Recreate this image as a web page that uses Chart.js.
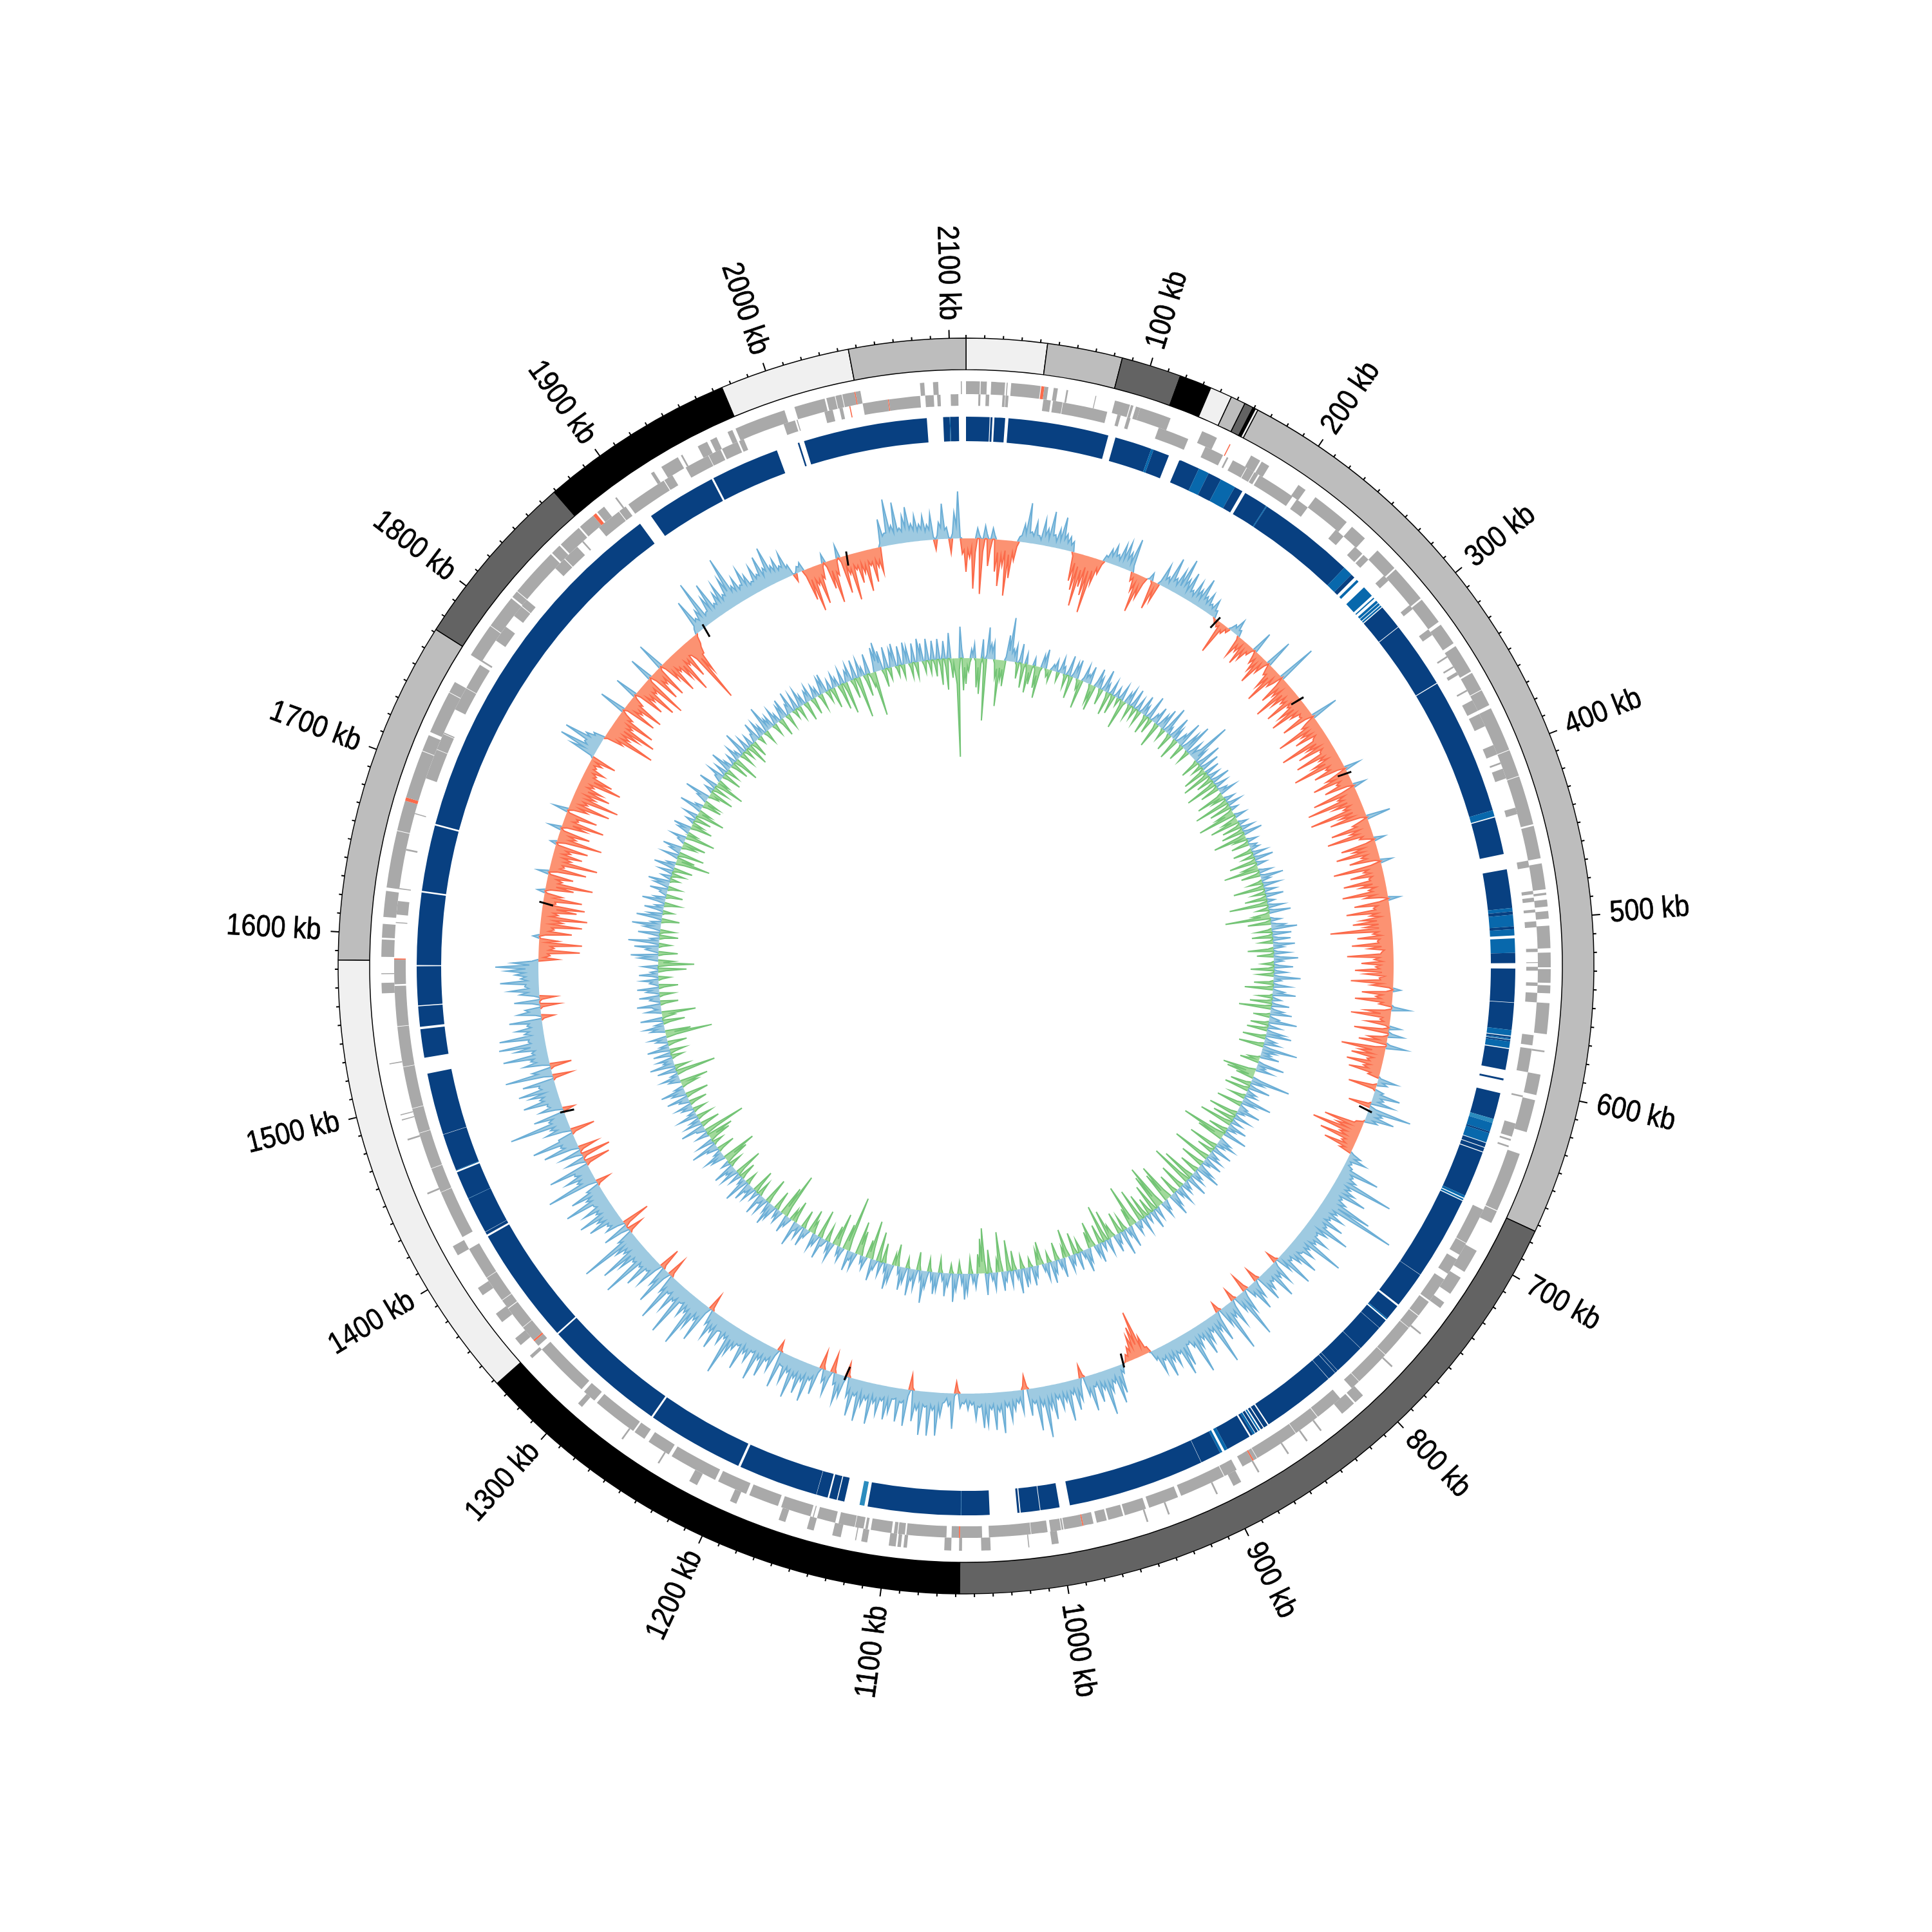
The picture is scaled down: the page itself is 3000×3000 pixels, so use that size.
<!DOCTYPE html>
<html>
<head>
<meta charset="utf-8">
<style>
body { margin: 0; background: #fff; }
#wrap { position: relative; width: 3000px; height: 3000px; }
canvas { position: absolute; left: 0; top: 0; }
</style>
<script src="https://cdn.jsdelivr.net/npm/chart.js@4/dist/chart.umd.js"></script>
</head>
<body>
<div id="wrap">
<canvas id="rings" width="3000" height="3000"></canvas>
<canvas id="tracks" width="3000" height="3000"></canvas>
</div>
<script>
const genomeKb = 2109;
const tickLabels = [100,200,300,400,500,600,700,800,900,1000,1100,1200,1300,1400,1500,1600,1700,1800,1900,2000,2100];

// outer band ring
const bandEnds = [43.8,84.5,117,134.4,146.5,154.5,159.4,160.8,162.3,673.7,1058,1337.6,1585,1771.6,1868.9,1975,2045.7,2109];
const bandStains = [0,1,2,3,0,1,2,3,0,1,2,3,0,1,2,3,0,1];

// genes as [start, end, flag] in kb, flag 1 = tomato
const outerGenes = [[0,8],[8.5,12],[14.5,22.5],[23.4,24],[26,43],[43.4,45.2,1],[45.2,47.5],[50.6,53],[58,59],[75,75.5],[86.5,95.5],[96,97.5],[99,101.6],[101.6,120],[139.6,148.9],[157,157.6,1],[171,177],[178,183],[203,208],[215,238],[242,252],[262,276],[277,299],[300,316],[318,331],[333,350],[351,362],[362.4,372],[374,400],[400.4,416],[416.4,445],[446,465],[468,483],[485,486.3],[489,493],[495.6,500],[504,517],[519.5,528],[529,537],[538.4,543],[548.6,566.5],[576,577],[590,602],[605,624],[637,672],[672.5,680],[698,712],[716,727],[733,737],[755,756],[780,781],[804,810],[811,820],[835,836],[845,846],[858,859],[878,879],[890,895],[905,906],[935,936],[948,949],[1001,1005],[1018,1018.6],[1040.3,1045.7],[1056.8,1058.5],[1063,1067],[1088.5,1090.5],[1092,1094],[1095,1099],[1111.5,1115],[1118,1118.6],[1127,1132],[1143,1147],[1160,1164],[1190,1194],[1215,1220],[1240,1241],[1265,1266],[1295,1298],[1335,1337],[1345,1350],[1362,1368],[1381,1386],[1408,1414],[1447,1448],[1480,1481],[1492,1492.6],[1495,1495.6],[1525,1525.6],[1566,1572],[1577,1577.6],[1587,1597],[1598,1606],[1610,1625],[1627,1660],[1660.4,1678],[1678,1680,1],[1680,1708],[1708.4,1718],[1720,1745],[1745.4,1752],[1770,1790],[1790.4,1810],[1811,1815],[1815.4,1844],[1845,1851],[1852,1866],[1867,1877],[1877,1879,1],[1880,1885],[1893,1894],[1918,1920],[1925,1936],[1938,1939],[1949,1955],[1957,1961],[1968,1971],[1973,2003],[2009,2027],[2028,2033],[2033.4,2037],[2037.4,2044.5],[2044.5,2045.1,1],[2045.1,2048],[2082.5,2085],[2090,2093],[2106,2106.6]];
const innerGenes = [[7.3,8.5],[11.6,13.7],[21.5,23],[23.3,25],[45.6,50],[51.3,57],[57.3,83.8],[90,92],[96,98],[115.4,134],[145,156.5],[159,160],[163,172],[172.4,177],[177.5,180],[181,204],[207,215],[236,242],[251,257],[258,262],[275,279],[298,301],[316,320],[335,336],[342,343],[346,348],[358,359],[365,372],[374,382],[394,400],[405,406],[409,415],[433,437],[465,469],[483,485],[487,489.5],[494,495.7],[501,504.5],[517,519],[525,525.5],[527.7,530],[537,539],[543,548.6],[568,574],[576,590],[604,605],[621,629],[630.5,631.5],[634.5,635.5],[675,697],[697.3,705],[708,718],[722,737],[738,748],[748.4,757],[757.3,778],[778.3,800],[800.3,806],[815,832],[832.4,848],[848.3,875],[875.3,877.5],[877.5,878.3,1],[878.3,885],[889,897],[897.4,925],[927,945],[947,960],[961,970],[971,977],[979,985],[985,985.7,1],[985.7,996.5],[997,998],[998.4,1004.6],[1006.4,1016],[1016.3,1041],[1045,1058],[1058,1058.7,1],[1058.7,1063],[1066,1089.6],[1090.5,1094.5],[1095,1097],[1098.4,1110.7],[1112.5,1114],[1115,1120],[1120.3,1130],[1132,1143],[1145,1145.6],[1147,1165],[1167,1185],[1187,1205],[1207,1236],[1238,1252],[1255,1262],[1263,1290],[1292,1300],[1302,1335],[1338,1341.5],[1341.5,1342.5,1],[1342.5,1352],[1352.3,1366],[1366.5,1372],[1372.3,1388],[1388.3,1408],[1416,1445],[1445.3,1460],[1460.3,1482],[1482.3,1497],[1497.3,1522],[1522.3,1546],[1546.3,1570],[1571,1585.5],[1585.5,1586.2,1],[1607,1607.6],[1612,1620],[1627,1627.6],[1650,1651],[1672,1672.6],[1694,1712],[1712.3,1722],[1722.3,1723],[1738,1752],[1752.3,1768],[1770,1771],[1785,1795],[1803,1810],[1810.4,1815],[1840,1847.5],[1848,1858],[1862,1863],[1875,1890],[1890.4,1895],[1897,1922],[1922.5,1928],[1937,1952],[1952.3,1960],[1961,1971],[1972,1975],[2000,2007],[2008,2008.6],[2025,2030],[2034,2036],[2040,2040.6,1],[2048,2063],[2063,2063.5,1],[2063.5,2082],[2085,2090],[2092,2094],[2100,2104.5]];

// coverage ring: end of each run in kb, and its level (0 = none)
const coverageEnds = [14.5,15,16.2,17.4,24,26,88,92.5,115.5,117,127,134,147,153.6,162,171.7,177,179,194,194.6,255,261,263.6,265.6,267.2,272,279,280.5,281.3,283,284.6,285,286.5,287,288,288.6,303.8,304.2,345.5,346,430.7,434.6,435.3,458.3,467.8,491.7,493.8,495.8,503,504.7,508.5,510.3,519.2,525.5,528.8,549.5,549.8,566.5,570,570.5,571.5,572.3,572.6,573.6,577.6,578.2,591.2,596.5,597.7,605.7,622,624.5,630,631,637,637.4,640,640.5,643,643.5,672,673.5,674.1,675.1,675.7,727.5,727.7,750.2,751.4,761,761.8,762.6,768.5,768.7,785.5,785.7,805,805.2,807,807.2,812.4,812.6,858.6,859.4,862,862.6,864.2,865,866,866.6,868.2,868.6,870,871.5,872.5,888,890,891.5,893,905.8,906,990.6,997,1008.8,1009.2,1021,1021.7,1023,1040,1057.5,1057.7,1115,1117,1120,1129.5,1133.7,1134.3,1139,1140,1147,1147.2,1196.5,1198,1258,1259.2,1335.2,1336.2,1409,1410.2,1412,1412.2,1435,1435.2,1452.5,1453.5,1453.9,1477,1477.2,1515.5,1525.4,1543,1544.5,1557,1557.6,1581.6,1582.3,1626.8,1627.8,1668.6,1669.6,1895.8,1904,1947.4,1948.6,1991,2004.5,2005.5,2008.5,2085,2095,2099,2099.4,2104.6,2109];
const coverageLevels = [1,0,1,0,1,0,1,0,1,2,1,0,1,2,1,2,1,0,1,2,1,2,1,0,2,0,2,0,2,0,2,0,2,0,2,0,1,0,1,0,1,2,0,1,0,1,2,1,2,1,2,0,2,1,0,1,0,1,2,0,1,2,0,1,2,0,1,0,1,0,1,3,2,1,2,0,1,0,1,0,1,2,0,2,0,1,0,1,0,1,2,0,1,0,1,0,1,0,1,0,1,0,1,0,1,0,1,0,2,0,1,0,2,1,0,1,2,0,2,1,0,1,0,1,0,1,0,1,0,1,2,1,0,3,0,1,0,1,0,1,0,1,0,1,0,1,0,1,0,1,0,1,2,1,0,2,1,0,1,0,1,0,1,0,1,0,1,0,1,0,1,0,1,0,1,0,1,0,1,0,1,2,1,0,1,0];

// skew track, readings every 3 kb
const skewValues = [
-52,-30,-78,16,-86,20,-42,17,-50,-72,-40,-86,-58,-30,8,28,62,18,34,14,40,27,55,20,30,50,25,22,16,-45,-58,-82,-50,
-62,-88,-40,-22,10,22,30,18,36,42,28,52,-14,-28,-60,-35,0,12,-45,-30,34,18,52,22,38,60,30,44,18,36,26,48,22,
30,16,26,12,-6,-10,-52,-14,-8,12,24,10,-34,-22,-40,-28,-14,34,-20,-30,-48,-24,44,-18,-38,-60,-26,62,-46,-30,-66,-40,-28,
-58,-24,-44,-61,-30,-18,-52,43,-26,-71,-34,-48,-20,-79,-38,-56,-22,-66,-30,-44,-79,-28,-50,24,-36,-60,-24,-46,19,-70,-32,-84,-44,
-30,-86,-40,-58,38,-26,-62,-34,-72,-22,17,-55,-38,-66,-28,-48,18,-76,-30,-52,-24,-65,-40,-28,-70,-36,18,-54,-25,-68,-32,-46,-60,
-42,-96,-30,-55,-24,-64,-38,-18,-72,-30,-50,-28,-60,-44,-22,-66,-34,12,-48,-26,-58,-20,28,-40,-62,-16,-36,18,-54,24,-30,-44,32,
-69,-40,-51,-25,-56,-28,-50,-18,30,16,-44,14,42,18,35,-35,68,24,45,20,-12,-62,-40,-77,-30,-60,-22,-48,-20,19,30,10,14,
61,22,30,94,28,38,60,24,34,80,123,30,44,26,52,28,70,36,24,46,30,81,28,40,22,55,30,18,59,26,-18,38,24,
54,20,30,44,-22,28,46,18,-28,36,75,26,-20,42,24,77,30,-16,48,28,79,22,36,52,24,34,72,26,18,50,62,24,40,
30,52,22,40,16,-10,-30,-73,-50,-38,-22,-12,0,14,44,58,24,36,70,28,46,20,56,30,-20,34,48,22,62,30,40,24,54,
36,80,30,67,24,42,-22,35,20,30,45,24,64,30,58,26,50,54,22,40,18,25,16,22,-18,55,20,14,36,67,28,68,24,
68,30,48,-24,57,22,52,18,40,52,24,46,30,64,28,38,64,26,59,30,-22,34,45,18,-30,37,20,-28,44,24,60,30,52,
30,64,26,44,20,58,-16,36,24,52,28,64,22,40,30,60,24,34,46,82,26,38,20,54,30,44,24,-26,62,30,48,83,30,
40,22,82,28,50,24,76,30,-30,60,32,-34,44,22,56,26,86,28,48,75,30,40,95,26,-24,42,-44,30,24,52,34,61,28,
46,24,69,30,52,22,-22,81,28,44,26,65,-40,30,-46,34,-30,56,26,69,24,-38,40,30,93,28,50,-18,36,22,58,30,44,
60,26,50,-30,74,30,-34,40,28,70,24,48,73,26,70,30,42,24,51,-20,36,24,-30,40,-26,30,46,22,60,28,36,50,67,
40,-30,-18,-64,-24,-67,-30,10,-50,-22,-65,-34,-72,-26,-54,-66,-20,-60,-28,12,-44,-73,-24,-40,18,-58,-22,-73,-30,-46,-26,-52,10,
-71,-28,-48,20,-38,-65,-22,-50,23,-30,-64,-26,-74,-34,-55,-40,-24,-66,-49,-20,-30,-14,-20,-40,40,62,24,61,28,18,-30,-80,-36,
-48,-73,-30,-63,-22,42,-54,-28,-59,-20,36,-48,-30,-62,-24,-70,38,-50,-26,-53,44,-34,-60,-28,-46,-73,-30,-55,-20,-108,-60,-30,-15,
8,55,20,30,75,18,40,60,22,36,48,26,50,81,30,40,24,48,34,20,42,26,52,30,61,28,36,22,40,18,-12,10,14,
-50,-70,-30,-62,-24,14,-44,-68,-26,20,-58,-30,-72,-26,-48,-34,-64,-25,-52,-30,-40,43,20,72,30,65,24,42,55,28,40,26,38,
24,40,-16,26,55,18,-22,40,73,-24
];

// skew track, the readings 1.5 kb after each of the above
const skewTroughs = [
-18,-14,-22,6,-20,8,-16,7,-20,-24,-16,-22,-18,-8,10,14,16,12,14,8,16,12,18,10,14,16,12,10,-6,-16,-20,-24,-18,
-22,-20,-14,-6,8,12,14,10,14,16,12,10,-8,-14,-18,-10,2,-4,-12,6,12,10,16,12,14,18,12,14,10,14,12,16,12,
12,10,10,-2,-4,-6,-10,-4,4,8,8,-6,-12,-8,-12,-10,-4,-8,-10,-14,-10,-8,-10,-14,-16,-12,-16,-14,-18,-14,-18,-16,-20,
-16,-20,-18,-18,-14,-16,-12,-16,-18,-20,-18,-14,-22,-20,-18,-16,-22,-20,-16,-24,-20,-22,-12,-18,-22,-16,-20,-10,-22,-20,-24,-20,-18,
-22,-18,-20,-10,-12,-20,-18,-22,-16,-10,-14,-20,-22,-18,-20,-8,-16,-22,-20,-18,-22,-20,-16,-22,-20,-10,-14,-18,-22,-20,-16,-22,-20,
-20,-22,-18,-20,-22,-18,-14,-20,-22,-18,-20,-22,-18,-14,-20,-18,-6,-10,-16,-18,-14,4,-10,-16,-12,-10,-6,-10,6,-8,-14,6,-16,
-20,-18,-16,-20,-18,-20,-14,4,8,-6,-4,10,12,10,-4,10,16,14,12,-2,-14,-20,-22,-20,-18,-16,-14,-12,6,10,6,6,12,
16,18,20,18,20,22,18,20,24,26,22,20,22,18,20,24,18,20,22,24,20,18,20,22,16,18,12,14,10,-4,8,14,16,
14,16,18,-6,8,14,12,-8,10,16,14,-4,10,14,16,14,-4,12,14,16,16,14,18,16,14,18,20,14,16,18,20,18,16,
18,16,18,12,2,-10,-14,-20,-18,-14,-8,-4,2,8,16,14,18,20,18,16,14,18,20,-4,10,18,14,16,18,16,18,16,18,
20,22,18,20,18,-4,-6,12,14,16,18,16,20,22,18,20,22,18,20,14,12,10,14,-4,4,14,8,16,20,22,20,22,20,
20,22,-4,10,18,20,16,18,20,18,20,22,18,20,22,18,20,22,18,-4,10,18,14,-6,10,12,-6,8,16,20,18,22,20,
22,20,18,20,18,-2,10,16,20,18,20,18,20,22,18,20,22,24,22,20,18,20,22,18,20,16,-4,10,22,20,24,22,20,
18,22,20,24,18,22,20,-6,12,20,-6,12,18,20,22,20,24,22,24,20,22,24,20,-4,12,-8,10,18,20,22,24,20,22,
20,24,22,20,18,-4,14,22,20,18,24,-6,10,-6,10,-6,12,20,22,24,-6,12,20,22,24,20,-2,12,18,20,24,22,20,
22,24,-4,14,22,-6,12,20,22,20,18,24,22,24,20,22,18,20,-4,10,18,-4,12,-4,10,18,16,20,18,20,22,20,14,
10,-8,-14,-16,-18,-12,-2,-10,-14,-18,-16,-20,-14,-18,-22,-14,-18,-16,-4,-8,-16,-18,-14,-4,-12,-16,-18,-20,-16,-14,-18,-4,-14,
-18,-16,-6,-8,-16,-14,-18,-4,-8,-16,-14,-18,-20,-16,-18,-14,-16,-20,-16,-12,-10,-8,-8,4,20,18,22,20,14,-4,-20,-24,-22,
-20,-22,-18,-16,-8,-6,-16,-20,-16,-6,-8,-16,-20,-18,-16,-6,-10,-18,-16,-6,-8,-20,-18,-22,-24,-20,-22,-18,-30,-34,-30,-20,-4,
12,16,14,18,14,18,20,16,18,20,18,22,26,22,20,18,22,20,16,18,20,22,18,24,20,18,16,18,14,2,4,8,-10,
-18,-20,-22,-18,-6,-8,-16,-20,-4,-8,-16,-22,-18,-20,-18,-22,-18,-20,-18,-20,6,16,20,22,18,20,18,24,20,18,16,18,14,
16,4,6,18,14,2,8,20,2,-18
];

// content track, readings every 3 kb
const contentValues = [
-40,-20,14,22,-45,-55,30,-96,49,24,26,-28,-72,-30,-40,40,68,20,26,-25,30,-38,16,-44,-30,12,-34,-49,20,30,-12,-18,10,
18,-14,24,12,-20,32,-35,24,30,-16,-45,26,14,28,-28,-40,30,18,-25,34,14,-36,22,-30,16,-12,24,-46,18,26,-22,30,-18,
20,-22,30,16,-30,38,-24,14,28,-40,22,34,-18,44,12,-28,36,20,-34,18,42,-26,30,48,-20,24,14,67,22,-30,40,-16,30,
-38,24,-45,18,-26,30,-50,20,-30,14,26,-44,-20,16,-55,22,-34,12,-28,-60,18,-24,-46,14,-30,20,-35,30,-52,-20,16,-28,12,
14,-30,22,-18,30,-42,16,-24,-55,20,-30,36,14,-22,26,-48,18,-20,28,-34,12,-60,24,-18,34,-26,-70,16,-36,22,40,-24,30,
-32,28,-20,34,16,-40,24,-26,38,14,-18,30,-36,20,-24,42,12,-30,26,-44,18,36,-22,14,-34,28,-50,20,34,-26,16,44,-28,
20,-32,28,40,-36,18,24,-39,55,22,16,30,-18,-30,42,14,26,-52,-44,-28,61,20,-32,34,-38,16,18,-24,46,22,-40,14,36,
12,-45,26,-34,18,-52,30,14,-30,38,-70,-42,20,28,14,-46,32,-26,16,24,-60,30,12,-38,26,40,-30,16,22,-52,34,-66,14,
18,-40,28,14,-32,22,36,-60,-48,16,24,-70,-56,20,-44,30,-26,14,-38,26,-52,12,20,-66,-30,34,14,-24,40,-34,16,28,-20,
-46,24,-58,14,-30,30,18,-40,-26,22,36,12,-20,28,-34,16,24,-44,-18,30,14,-28,20,34,-16,26,12,-36,-24,18,30,-14,22,
30,-20,38,14,-30,24,-48,16,30,-62,-20,26,12,-36,34,-70,-54,-30,22,14,-24,30,40,16,-18,26,44,-14,20,36,12,-22,28,
34,14,-20,26,50,16,-28,30,18,42,-16,24,36,12,-34,-18,28,40,14,-30,22,-46,16,34,-60,-28,20,12,-38,-52,26,14,32,
-86,-40,22,14,-52,-30,28,16,-24,12,34,-44,18,26,-20,-36,14,30,-28,22,12,40,-34,-18,16,28,-71,-46,20,14,-30,24,36,
18,-40,26,12,34,-22,16,-36,24,14,30,-18,40,12,-26,20,-44,28,16,34,-20,14,-38,-54,22,30,12,-28,18,42,-16,26,-34,
-41,20,-66,14,38,-30,26,16,-24,30,12,-20,18,25,-28,16,34,-36,22,38,14,-26,-44,18,28,12,-62,30,-22,39,16,24,-18,
28,-24,35,14,-30,18,26,-73,-40,22,30,14,-34,35,-20,-53,24,12,37,-28,16,32,-22,20,34,-30,14,26,-18,30,12,-44,24,
-56,-24,30,43,-30,20,38,-18,48,14,-29,34,-22,26,45,16,-28,40,22,-16,30,14,-24,36,18,-26,12,28,-20,24,34,-14,16,
-20,22,-30,33,14,-54,-28,26,-40,18,30,-22,-36,12,24,-46,-16,20,28,-34,-18,14,-26,22,-44,-20,36,12,-30,-24,18,40,-16,
-38,14,-24,30,-46,-18,12,26,-30,20,-20,34,14,-28,16,-40,24,12,-22,38,-16,22,-34,18,-26,14,30,-12,26,16,-20,42,18,
20,-18,26,14,-28,22,30,-22,16,34,-14,26,-20,28,16,-30,18,24,-26,20,14,-24,26,30,-18,16,-32,22,14,-40,24,-50,18,
26,-30,30,-64,28,14,-34,32,-22,-69,38,45,30,-28,34,-18,28,36,-16,30,-20,34,26,-22,30,-24,36,28,-18,34,-20,30,-26,
32,-40,28,-48,40,-30,-24,-153,49,-50
];

// content track, the readings 1.5 kb after each of the above
const contentTroughs = [
-12,-6,6,-4,-14,-8,-10,6,14,12,-6,-14,-12,-14,6,16,14,10,-4,6,-8,-6,-10,-12,-4,-6,-14,-6,10,-4,-6,4,6,
4,6,8,-4,8,-6,6,12,-4,-8,6,8,10,-6,-10,8,8,-6,8,6,-8,4,-6,4,4,8,-8,-6,10,-4,8,-4,6,
-4,6,8,-6,8,-4,4,10,-8,6,12,-4,10,6,-6,10,6,-8,6,12,-4,8,14,-4,8,6,18,8,-6,10,-2,8,-8,
-6,-8,6,-6,8,-10,6,-6,4,8,-8,-6,6,-10,6,-6,4,-6,-14,6,-6,-10,6,-6,6,-8,8,-10,-8,6,-6,4,6,
-6,6,-4,8,-8,6,-6,-12,8,-6,8,6,-6,8,-10,6,-4,8,-8,4,-12,8,-4,8,-6,-14,6,-8,8,12,-6,8,-6,
8,-4,8,6,-8,6,-6,10,6,-4,8,-8,6,-6,10,6,-6,8,-10,6,10,-4,6,-8,8,-10,6,10,-6,6,12,-6,6,
-6,8,10,-8,6,8,-10,12,8,6,8,-4,-8,10,6,8,-12,-14,-8,14,8,-8,10,-8,6,6,-6,12,8,-8,6,10,6,
-10,8,-8,6,-12,8,6,-8,10,-16,-14,8,10,6,-10,8,-6,6,8,-14,10,6,-10,8,12,-8,6,8,-12,10,-16,6,6,
-10,8,6,-8,8,12,-14,-16,6,10,-16,-18,8,-12,10,-8,6,-10,8,-14,6,8,-16,-10,10,6,-6,12,-10,6,10,-6,-12,
8,-14,6,-8,10,6,-10,-8,8,12,6,-6,10,-10,6,8,-12,-6,10,6,-8,8,12,-4,10,6,-10,-8,6,10,-4,8,10,
-6,12,6,-8,8,-14,6,10,-18,-8,10,6,-10,12,-20,-18,-10,8,6,-8,10,14,6,-6,10,14,-4,8,12,6,-6,10,12,
6,-6,10,16,8,-8,10,8,14,-4,10,12,6,-10,-6,10,14,6,-10,8,-14,6,12,-18,-10,8,6,-12,-16,10,6,12,-20,
-14,8,6,-14,-10,10,6,-8,6,12,-12,8,10,-6,-12,6,10,-8,8,6,14,-10,-6,8,10,-18,-14,8,6,-10,10,12,8,
-12,10,6,12,-8,6,-12,10,6,12,-6,14,6,-8,8,-12,10,8,12,-6,6,-12,-16,10,12,6,-8,8,14,-4,10,-10,-12,
8,-18,6,14,-10,10,6,-8,12,6,-6,8,10,-8,8,12,-10,10,14,6,-8,-14,8,10,6,-16,10,-6,14,8,10,-6,10,
-8,12,6,-10,8,10,-18,-14,8,12,6,-10,12,-6,-14,10,6,14,-8,8,12,-6,8,12,-8,6,10,-6,10,6,-12,10,-16,
-8,12,14,-8,10,14,-6,16,6,-8,12,-6,10,14,8,-8,14,8,-4,10,6,-8,12,8,-6,6,10,-6,10,12,-4,8,-6,
8,-8,12,6,-14,-8,10,-10,8,12,-6,-10,6,10,-12,-4,8,10,-10,-6,6,-8,8,-12,-6,12,6,-8,-6,8,14,-4,-10,
6,-6,10,-12,-6,6,10,-8,8,-6,12,6,-8,6,-12,8,6,-6,12,-4,8,-10,8,-8,6,12,-4,10,6,-6,14,8,8,
-6,10,6,-8,8,10,-6,6,12,-4,10,-6,10,6,-8,8,10,-8,8,6,-6,10,12,-6,6,-10,8,6,-12,8,-14,8,10,
-8,12,-18,10,6,-10,12,-6,-18,14,16,12,-8,12,-6,10,14,-4,12,-6,12,10,-6,12,-8,14,10,-6,12,-6,12,-8,12,
-10,10,-14,14,-8,-8,-40,-18,14,-14
];

// short black marks on the skew track, position in kb
const markKb = [210,300,369,642,927,1149,1464,1630,1887,2013];

const windowKb = 1.5;
const skewBase = 664;
const contentBase = 478;
const stainColors = ['#f0f0f0', '#bdbdbd', '#636363', '#000000'];
const levelColors = ['rgba(0,0,0,0)', '#084081', '#0868ac', '#2b8cbe'];
const geneColor = '#a9a9a9';
const geneFlagColor = '#fb6a4a';

function runs(ends) {
    return ends.map((e, i) => e - (i ? ends[i - 1] : 0));
}

function geneRing(genes, weight) {
    const data = [];
    const colors = [];
    let cursor = 0;
    genes.forEach(g => {
        if (g[0] > cursor) {
            data.push(g[0] - cursor);
            colors.push('rgba(0,0,0,0)');
        }
        data.push(g[1] - g[0]);
        colors.push(g[2] ? geneFlagColor : geneColor);
        cursor = g[1];
    });
    data.push(genomeKb - cursor);
    colors.push('rgba(0,0,0,0)');
    return { data: data, backgroundColor: colors, borderWidth: 0, weight: weight };
}

function spacer(weight) {
    return { data: [1], backgroundColor: ['rgba(0,0,0,0)'], borderWidth: 0, weight: weight };
}

// kb ticks and rotated labels round the outer ring
const kbAxis = {
    id: 'kbAxis',
    afterDraw(chart) {
        const arc = chart.getDatasetMeta(0).data[0];
        const ctx = chart.ctx;
        const outer = arc.outerRadius;
        ctx.save();
        ctx.translate(arc.x, arc.y);
        ctx.strokeStyle = '#000';
        ctx.lineWidth = 2;
        for (let kb = 0; kb < genomeKb; kb += 10) {
            const a = kb / genomeKb * Math.PI * 2;
            const len = kb % 100 === 0 && kb > 0 ? 13 : 5;
            ctx.beginPath();
            ctx.moveTo(Math.sin(a) * outer, -Math.cos(a) * outer);
            ctx.lineTo(Math.sin(a) * (outer + len), -Math.cos(a) * (outer + len));
            ctx.stroke();
        }
        ctx.fillStyle = '#000';
        ctx.lineWidth = 0.7;
        ctx.font = '47px "Liberation Sans", sans-serif';
        ctx.textBaseline = 'middle';
        tickLabels.forEach(kb => {
            const a = kb / genomeKb * Math.PI * 2;
            const left = a > Math.PI;
            const text = kb + ' kb';
            const pos = (outer + 28) / 0.88;
            ctx.save();
            ctx.rotate(left ? a + Math.PI / 2 : a - Math.PI / 2);
            ctx.scale(0.88, 1);
            ctx.textAlign = left ? 'right' : 'left';
            ctx.fillText(text, left ? -pos : pos, 0);
            ctx.strokeText(text, left ? -pos : pos, 0);
            ctx.restore();
        });
        ctx.restore();
    }
};

new Chart(document.getElementById('rings'), {
    type: 'doughnut',
    data: {
        datasets: [
            { data: runs(bandEnds), backgroundColor: bandStains.map(s => stainColors[s]), borderColor: '#000', borderWidth: 1.5, weight: 49 },
            spacer(18),
            geneRing(outerGenes, 20),
            geneRing(innerGenes, 18),
            spacer(17),
            { data: runs(coverageEnds), backgroundColor: coverageLevels.map(l => levelColors[l]), borderWidth: 0, weight: 38 }
        ]
    },
    options: {
        responsive: false,
        animation: false,
        events: [],
        radius: 975,
        cutout: '83.59%',
        plugins: { legend: { display: false }, tooltip: { enabled: false } }
    },
    plugins: [kbAxis]
});

function interleave(a, b) {
    const out = [];
    a.forEach((v, i) => {
        out.push(v);
        if (b[i] !== undefined) out.push(b[i]);
    });
    return out;
}

// one side of a track: keeps values of one sign, touching the baseline next to them
function trackSide(values, base, sign) {
    const n = values.length;
    return values.map((v, i) => {
        if (v * sign > 0) return base + v;
        if (values[(i + n - 1) % n] * sign > 0 || values[(i + 1) % n] * sign > 0) return base;
        return null;
    });
}

function trackDataset(values, base, sign, line, fill) {
    return {
        data: trackSide(values, base, sign),
        borderColor: line,
        backgroundColor: fill,
        borderWidth: 2,
        pointRadius: 0,
        tension: 0,
        spanGaps: false,
        fill: { value: base }
    };
}

const skewSeries = interleave(skewValues, skewTroughs);
const contentSeries = interleave(contentValues, contentTroughs);

const markData = skewSeries.map(() => null);
markKb.forEach(kb => {
    const i = Math.round(kb / windowKb);
    markData[i] = skewBase - 16;
    markData[i + 1] = skewBase + 6;
});

new Chart(document.getElementById('tracks'), {
    type: 'radar',
    data: {
        labels: skewSeries.map((v, i) => i * windowKb),
        datasets: [
            { data: markData, borderColor: '#000', borderWidth: 3, pointRadius: 0, fill: false },
            trackDataset(skewSeries, skewBase, -1, '#fb6a4a', '#fc9272'),
            trackDataset(skewSeries, skewBase, 1, '#6baed6', '#9ecae1'),
            trackDataset(contentSeries, contentBase, -1, '#74c476', '#a1d99b'),
            trackDataset(contentSeries, contentBase, 1, '#6baed6', '#9ecae1')
        ]
    },
    options: {
        responsive: false,
        animation: false,
        events: [],
        plugins: { legend: { display: false }, tooltip: { enabled: false } },
        scales: {
            r: {
                min: 0,
                max: 1500,
                ticks: { display: false },
                grid: { display: false },
                angleLines: { display: false },
                pointLabels: { display: false }
            }
        }
    }
});
</script>
</body>
</html>
